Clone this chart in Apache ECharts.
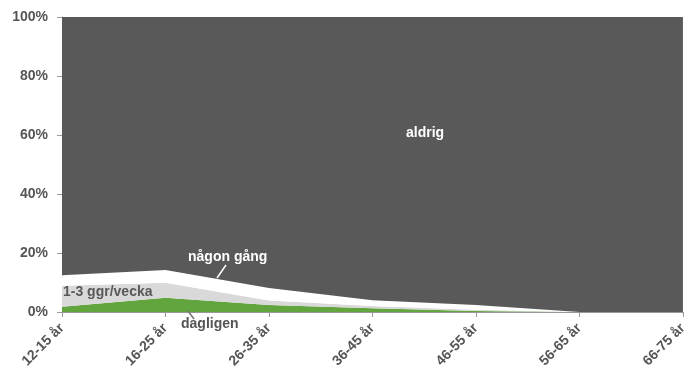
<!DOCTYPE html>
<html>
<head>
<meta charset="utf-8">
<script src="https://cdn.jsdelivr.net/npm/echarts@6/dist/echarts.min.js"></script>
<style>
html,body{margin:0;padding:0;background:#fff;}
#chart{width:690px;height:377px;}
</style>
</head>
<body>
<div id="chart"></div>
<script>
// Age groups
var categories = ['12-15 år', '16-25 år', '26-35 år', '36-45 år', '46-55 år', '56-65 år', '66-75 år'];
// Share of each answer per age group (%)
var dagligen = [1.8, 4.8, 2.4, 1.3, 0.3, 0, 0];
var ggrVecka = [7.1, 5.1, 1.5, 0.7, 0.5, 0, 0];
var nagonGang = [3.6, 4.3, 4.2, 2.0, 1.6, 0, 0];
var aldrig = [87.5, 85.8, 91.9, 96.0, 97.6, 100, 100];
var yTicks = [0, 20, 40, 60, 80, 100];

var font = '"Liberation Sans", Arial, sans-serif';
var chart = echarts.init(document.getElementById('chart'));

function area(name, data, color) {
  return {
    name: name,
    type: 'line',
    stack: 'total',
    data: data,
    symbol: 'none',
    lineStyle: { width: 0 },
    areaStyle: { color: color, opacity: 1 },
    itemStyle: { color: color },
    emphasis: { disabled: true }
  };
}

chart.setOption({
  animation: false,
  grid: { left: 62, right: 2, top: 17, bottom: 65 },
  xAxis: {
    type: 'category',
    data: categories,
    boundaryGap: false,
    axisLine: { lineStyle: { color: '#999', width: 1 } },
    axisTick: { show: true, length: 5, lineStyle: { color: '#999' } },
    axisLabel: {
      rotate: 45, interval: 0, margin: 14,
      color: '#555', fontFamily: font, fontWeight: 'bold', fontSize: 14
    },
    splitLine: { show: false }
  },
  yAxis: {
    type: 'value',
    min: yTicks[0], max: yTicks[yTicks.length - 1], interval: 20,
    axisLine: { show: true, lineStyle: { color: '#999', width: 1 } },
    axisTick: { show: true, length: 5, lineStyle: { color: '#999' } },
    axisLabel: {
      formatter: '{value}%', margin: 14,
      color: '#555', fontFamily: font, fontWeight: 'bold', fontSize: 14
    },
    splitLine: { show: false }
  },
  series: [
    area('dagligen', dagligen, '#62a43e'),
    area('1-3 ggr/vecka', ggrVecka, '#d9d9d9'),
    area('någon gång', nagonGang, '#ffffff'),
    area('aldrig', aldrig, '#595959')
  ],
  graphic: [
    { type: 'text', left: 406, top: 126, z: 100,
      style: { text: 'aldrig', fill: '#fff', font: 'bold 14px ' + font } },
    { type: 'text', left: 188, top: 250, z: 100,
      style: { text: 'någon gång', fill: '#fff', font: 'bold 14px ' + font } },
    { type: 'line', z: 100,
      shape: { x1: 226, y1: 265, x2: 217, y2: 278 },
      style: { stroke: '#fff', lineWidth: 1.5 } },
    { type: 'text', left: 63, top: 285, z: 100,
      style: { text: '1-3 ggr/vecka', fill: '#595959', font: 'bold 14px ' + font } },
    { type: 'text', left: 181, top: 317, z: 100,
      style: { text: 'dagligen', fill: '#555', font: 'bold 14px ' + font } },
    { type: 'line', z: 100,
      shape: { x1: 188, y1: 311, x2: 194, y2: 319 },
      style: { stroke: '#777', lineWidth: 1.5 } }
  ]
});
</script>
</body>
</html>
